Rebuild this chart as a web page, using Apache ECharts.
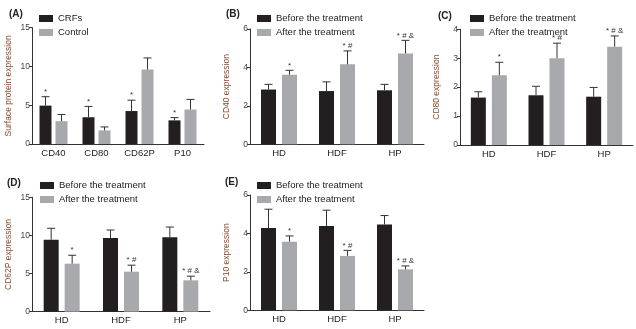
<!DOCTYPE html>
<html>
<head>
<meta charset="utf-8">
<script src="https://cdn.jsdelivr.net/npm/echarts@6/dist/echarts.min.js"></script>
<style>
html,body{margin:0;padding:0;background:#fff;}
#chart{width:636px;height:329px;}
</style>
</head>
<body>
<div id="chart"></div>
<script>
// ---- Data ----
const proteinCats = ['CD40', 'CD80', 'CD62P', 'P10'];
const crfsValues = [4.95, 3.45, 4.25, 3.05];
const crfsErrors = [1.15, 1.4, 1.4, 0.35];
const controlValues = [2.95, 1.75, 9.6, 4.45];
const controlErrors = [0.85, 0.45, 1.5, 1.3];
const crfsMarks = ['*', '*', '*', '*'];

const groupCats = ['HD', 'HDF', 'HP'];
const afterMarks = ['*', '* #', '* # &'];

const cd40Before = [2.85, 2.77, 2.81];
const cd40BeforeErr = [0.27, 0.48, 0.31];
const cd40After = [3.62, 4.16, 4.73];
const cd40AfterErr = [0.23, 0.7, 0.68];

const cd80Before = [1.64, 1.72, 1.67];
const cd80BeforeErr = [0.2, 0.31, 0.32];
const cd80After = [2.41, 3.0, 3.4];
const cd80AfterErr = [0.45, 0.52, 0.37];

const cd62pBefore = [9.44, 9.66, 9.75];
const cd62pBeforeErr = [1.5, 1.05, 1.35];
const cd62pAfter = [6.3, 5.25, 4.11];
const cd62pAfterErr = [1.1, 0.85, 0.55];

const p10Before = [4.28, 4.39, 4.47];
const p10BeforeErr = [0.98, 0.82, 0.46];
const p10After = [3.57, 2.83, 2.13];
const p10AfterErr = [0.3, 0.29, 0.18];

const yTicksA = [0, 5, 10, 15];
const yTicksB = [0, 2, 4, 6];
const yTicksC = [0, 1, 2, 3, 4];
const yTicksD = [0, 5, 10, 15];
const yTicksE = [0, 2, 4, 6];

// ---- Styling ----
const FONT = 'Liberation Sans, Arial, sans-serif';
const DARK = '#231f20';
const GREY = '#a7a9ac';
const TITLE_COLOR = '#8a4a2c';

const panels = [
  { label: '(A)', grid: {left: 32, top: 27.7, width: 172, height: 116.3}, cats: proteinCats, ticks: yTicksA,
    yName: 'Surface protein expression', names: ['CRFs', 'Control'],
    vals: [crfsValues, controlValues], errs: [crfsErrors, controlErrors], marks: [crfsMarks, null],
    barWidth: 12, gap: 4, labelPos: [9, 9], legendPos: [39, 13] },
  { label: '(B)', grid: {left: 250, top: 29, width: 174, height: 115.3}, cats: groupCats, ticks: yTicksB,
    yName: 'CD40 expression', names: ['Before the treatment', 'After the treatment'],
    vals: [cd40Before, cd40After], errs: [cd40BeforeErr, cd40AfterErr], marks: [null, afterMarks],
    barWidth: 15, gap: 6, labelPos: [226, 9], legendPos: [257, 13] },
  { label: '(C)', grid: {left: 460, top: 29.3, width: 173, height: 115.7}, cats: groupCats, ticks: yTicksC,
    yName: 'CD80 expression', names: ['Before the treatment', 'After the treatment'],
    vals: [cd80Before, cd80After], errs: [cd80BeforeErr, cd80AfterErr], marks: [null, afterMarks],
    barWidth: 15, gap: 6, labelPos: [438, 11], legendPos: [470, 13] },
  { label: '(D)', grid: {left: 32, top: 197.3, width: 178, height: 114.4}, cats: groupCats, ticks: yTicksD,
    yName: 'CD62P expression', names: ['Before the treatment', 'After the treatment'],
    vals: [cd62pBefore, cd62pAfter], errs: [cd62pBeforeErr, cd62pAfterErr], marks: [null, afterMarks],
    barWidth: 15, gap: 6, labelPos: [7, 178], legendPos: [40, 180] },
  { label: '(E)', grid: {left: 250, top: 195, width: 174, height: 115.3}, cats: groupCats, ticks: yTicksE,
    yName: 'P10 expression', names: ['Before the treatment', 'After the treatment'],
    vals: [p10Before, p10After], errs: [p10BeforeErr, p10AfterErr], marks: [null, afterMarks],
    barWidth: 15, gap: 6, labelPos: [225, 177], legendPos: [257, 180] }
];

const option = {
  animation: false,
  backgroundColor: '#fff',
  textStyle: { fontFamily: FONT },
  title: [], legend: [], grid: [], xAxis: [], yAxis: [], series: []
};

function errorSeries(pi, offset, color, capW, marks, data) {
  return {
    type: 'custom', xAxisIndex: pi, yAxisIndex: pi, z: 5, silent: true,
    encode: { x: 0, y: [1, 2] },
    renderItem: function (params, api) {
      const cat = api.value(0), mean = api.value(1), top = api.value(2);
      const pt = api.coord([cat, top]);
      const pb = api.coord([cat, mean]);
      const x = pt[0] + offset;
      const children = [
        { type: 'line', shape: {x1: x, y1: pb[1], x2: x, y2: pt[1]}, style: {stroke: color, lineWidth: 1} },
        { type: 'line', shape: {x1: x - capW / 2, y1: pt[1], x2: x + capW / 2, y2: pt[1]}, style: {stroke: color, lineWidth: 1} }
      ];
      if (marks && marks[params.dataIndex]) {
        children.push({ type: 'text', style: { text: marks[params.dataIndex], x: x, y: pt[1] - 1,
          align: 'center', verticalAlign: 'bottom', fontSize: 8, fontFamily: FONT, fill: '#333' } });
      }
      return { type: 'group', children: children };
    },
    data: data
  };
}

panels.forEach(function (p, pi) {
  option.title.push({ text: p.label, left: p.labelPos[0], top: p.labelPos[1], padding: 0,
    textStyle: { fontSize: 10, fontWeight: 'bold', color: '#222', fontFamily: FONT } });
  option.legend.push({ data: p.names, orient: 'vertical', left: p.legendPos[0], top: p.legendPos[1],
    itemWidth: 14, itemHeight: 7, itemGap: 3, icon: 'rect', selectedMode: false, padding: 0,
    textStyle: { fontSize: 9.5, color: '#222', fontFamily: FONT, lineHeight: 11 } });
  option.grid.push(Object.assign({ containLabel: false, outerBoundsMode: 'none' }, p.grid));
  option.xAxis.push({ type: 'category', gridIndex: pi, data: p.cats,
    axisLine: { lineStyle: { color: '#333', width: 1 } },
    axisTick: { alignWithLabel: true, length: 3, lineStyle: { color: '#333' } },
    axisLabel: { fontSize: 9.5, color: '#222', margin: 4, fontFamily: FONT, interval: 0, hideOverlap: false } });
  const tk = p.ticks;
  option.yAxis.push({ type: 'value', gridIndex: pi, min: tk[0], max: tk[tk.length - 1], interval: tk[1] - tk[0],
    name: p.yName, nameLocation: 'middle', nameGap: 19, nameMoveOverlap: false,
    nameTextStyle: { fontSize: 8.5, color: TITLE_COLOR, fontFamily: FONT },
    axisLine: { show: true, lineStyle: { color: '#333', width: 1 } },
    axisTick: { show: true, length: 3, lineStyle: { color: '#333' } },
    splitLine: { show: false },
    axisLabel: { show: true, fontSize: 8.5, color: '#444', margin: 2, fontFamily: FONT, hideOverlap: false,
      showMinLabel: true, showMaxLabel: true } });
  const colors = [DARK, GREY];
  const gapFrac = p.gap / p.barWidth;
  const off = (p.barWidth + p.gap) / 2;
  [0, 1].forEach(function (si) {
    option.series.push({ type: 'bar', name: p.names[si], xAxisIndex: pi, yAxisIndex: pi,
      data: p.vals[si], barWidth: p.barWidth, barGap: (gapFrac * 100) + '%',
      itemStyle: { color: colors[si] }, silent: true });
  });
  [0, 1].forEach(function (si) {
    const offset = si === 0 ? -off : off;
    const data = p.vals[si].map(function (v, i) { return [i, v, v + p.errs[si][i]]; });
    option.series.push(errorSeries(pi, offset, '#333', 8, p.marks[si], data));
  });
});

const chart = echarts.init(document.getElementById('chart'), null, { renderer: 'canvas' });
chart.setOption(option);
</script>
</body>
</html>
